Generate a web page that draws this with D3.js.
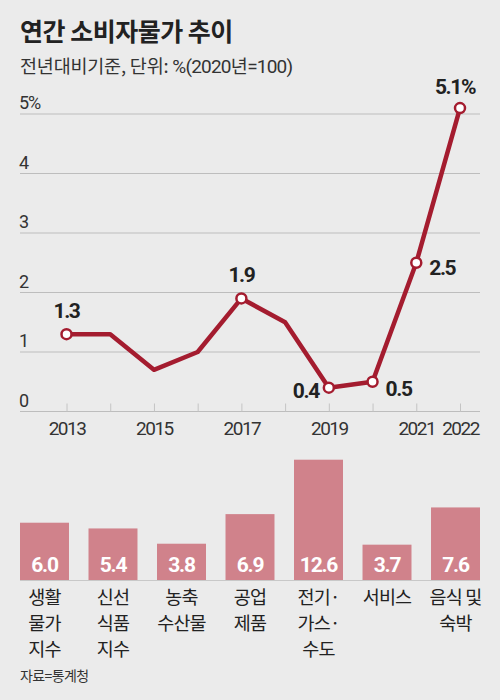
<!DOCTYPE html>
<meta charset="utf-8">
<head>
  <title>연간 소비자물가 추이</title>
  <style>
    body { margin: 0; background: #ebebeb; }
    svg { display: block; }
    .kr { font-family: "Noto Sans CJK KR", "Noto Sans", sans-serif; }
    .num { font-family: "Roboto", "Liberation Sans", sans-serif; }
    .grid line { stroke: #bdbdbd; stroke-width: 1; }
    .line { fill: none; stroke: #a41c2f; stroke-width: 4.5px; stroke-linejoin: round; }
    .dot { fill: #fff; stroke: #a41c2f; stroke-width: 2.5px; }
  </style>
</head>
<body>
  <svg width="500" height="700"></svg>
  <script src="https://d3js.org/d3.v7.min.js"></script>
  <script>
    // 연간 소비자물가 (전년대비, %)
    var years = [2013, 2014, 2015, 2016, 2017, 2018, 2019, 2020, 2021, 2022];
    var cpi = [1.3, 1.3, 0.7, 1.0, 1.9, 1.5, 0.4, 0.5, 2.5, 5.1];
    var yearTicks = [2013, 2015, 2017, 2019, 2021, 2022];
    var yTicks = [0, 1, 2, 3, 4, 5];
    var labeledYears = [2013, 2017, 2019, 2020, 2021, 2022];

    // 2022년 품목별 상승률
    var items = ["생활\n물가\n지수", "신선\n식품\n지수", "농축\n수산물", "공업\n제품", "전기·\n가스·\n수도", "서비스", "음식 및\n숙박"];
    var itemValues = [6.0, 5.4, 3.8, 6.9, 12.6, 3.7, 7.6];

    var svg = d3.select("svg");

    svg.append("text").attr("class", "kr")
        .attr("x", 20).attr("y", 41)
        .style("font-size", "25px").style("font-weight", 700).style("fill", "#222")
        .style("letter-spacing", "-0.5px")
        .text("연간 소비자물가 추이");

    var sub = svg.append("text").attr("x", 20).attr("y", 73)
        .style("font-size", "18.5px").style("fill", "#333");
    sub.append("tspan").attr("class", "kr").style("letter-spacing", "-0.2px").text("전년대비기준, 단위: ");
    sub.append("tspan").attr("class", "num").style("font-size", "19px").style("letter-spacing", "-0.8px").text("%(2020");
    sub.append("tspan").attr("class", "kr").style("letter-spacing", "-0.5px").text("년");
    sub.append("tspan").attr("class", "num").style("font-size", "19px").style("letter-spacing", "-0.8px").text("=100)");

    // ---- line chart ----
    var x = d3.scaleLinear().domain([2013, 2022]).range([66.5, 460]);
    var y = d3.scaleLinear().domain([0, 5]).range([411.5, 114]);

    var grid = svg.append("g").attr("class", "grid");
    grid.selectAll("line").data(yTicks).enter().append("line")
        .attr("x1", 20).attr("x2", 480)
        .attr("y1", function(d) { return y(d); })
        .attr("y2", function(d) { return y(d); });

    svg.append("g").selectAll("text").data(yTicks).enter().append("text")
        .attr("class", "num")
        .attr("x", 19).attr("y", function(d) { return y(d) - 5; })
        .style("font-size", "18px").style("fill", "#333").style("letter-spacing", "-1px")
        .text(function(d) { return d === 5 ? d + "%" : d; });

    var xAxis = d3.axisBottom(x).tickValues(years).tickSize(0).tickFormat("");
    var xg = svg.append("g").attr("transform", "translate(0," + y(0) + ")").call(xAxis);
    xg.select(".domain").remove();
    xg.selectAll(".tick").append("line")
        .attr("y1", -8).attr("y2", 0).attr("stroke", "#c4c4c4");
    xg.selectAll(".tick").filter(function(d) { return yearTicks.indexOf(d) >= 0; })
        .append("text").attr("class", "num")
        .attr("y", 23).attr("text-anchor", "middle")
        .style("font-size", "19px").style("fill", "#333").style("letter-spacing", "-1.5px")
        .text(function(d) { return d; });

    var data = years.map(function(yr, i) { return { year: yr, v: cpi[i] }; });

    svg.append("path").datum(data).attr("class", "line")
        .attr("d", d3.line().x(function(d) { return x(d.year); }).y(function(d) { return y(d.v); }));

    var marked = data.filter(function(d) { return labeledYears.indexOf(d.year) >= 0; });
    svg.selectAll(".dot").data(marked).enter().append("circle")
        .attr("class", "dot").attr("r", 5)
        .attr("cx", function(d) { return x(d.year); })
        .attr("cy", function(d) { return y(d.v); });

    // label offsets: [dx, dy, anchor]
    var labelPos = {
      2013: [0, -16, "middle"], 2017: [0, -16, "middle"], 2019: [-10, 10, "end"],
      2020: [13, 14, "start"], 2021: [13, 12, "start"], 2022: [-5, -14, "middle"]
    };
    svg.selectAll(".vlab").data(marked).enter().append("text")
        .attr("class", "num vlab")
        .attr("x", function(d) { return x(d.year) + labelPos[d.year][0]; })
        .attr("y", function(d) { return y(d.v) + labelPos[d.year][1]; })
        .attr("text-anchor", function(d) { return labelPos[d.year][2]; })
        .style("font-size", "21px").style("font-weight", 700).style("fill", "#222")
        .style("letter-spacing", "-1.4px")
        .text(function(d) { return d.year === 2022 ? d.v.toFixed(1) + "%" : d.v.toFixed(1); });

    // ---- bar chart ----
    var bx = d3.scaleBand().domain(items).range([20, 480]).paddingInner(0.285).paddingOuter(0);
    var by = d3.scaleLinear().domain([0, 12.6]).range([580, 459.7]);

    svg.append("line").attr("x1", 20).attr("x2", 480)
        .attr("y1", by(0) + 0.5).attr("y2", by(0) + 0.5).attr("stroke", "#c8c8c8");

    var bars = svg.selectAll(".bar").data(items).enter().append("g").attr("class", "bar");
    bars.append("rect")
        .attr("x", function(d) { return bx(d); })
        .attr("width", bx.bandwidth())
        .attr("y", function(d, i) { return by(itemValues[i]); })
        .attr("height", function(d, i) { return by(0) - by(itemValues[i]); })
        .attr("fill", "#d0828b");
    bars.append("text").attr("class", "num")
        .attr("x", function(d) { return bx(d) + bx.bandwidth() / 2; })
        .attr("y", by(0) - 8)
        .attr("text-anchor", "middle")
        .style("font-size", "21px").style("font-weight", 700).style("fill", "#fff")
        .style("letter-spacing", "-1.2px")
        .text(function(d, i) { return itemValues[i].toFixed(1); });
    bars.append("text").attr("class", "kr")
        .attr("text-anchor", "middle")
        .style("font-size", "18.5px").style("fill", "#222").style("letter-spacing", "-0.8px")
        .selectAll("tspan").data(function(d) { return d.split("\n").map(function(t) { return { t: t, c: d }; }); })
        .enter().append("tspan")
        .attr("x", function(d) { return bx(d.c) + bx.bandwidth() / 2; })
        .attr("y", function(d, i) { return 604 + i * 26; })
        .text(function(d) { return d.t; });

    svg.append("text").attr("class", "kr")
        .attr("x", 20).attr("y", 681)
        .style("font-size", "14px").style("fill", "#333").style("letter-spacing", "-0.6px")
        .text("자료=통계청");
  </script>
</body>
</html>
